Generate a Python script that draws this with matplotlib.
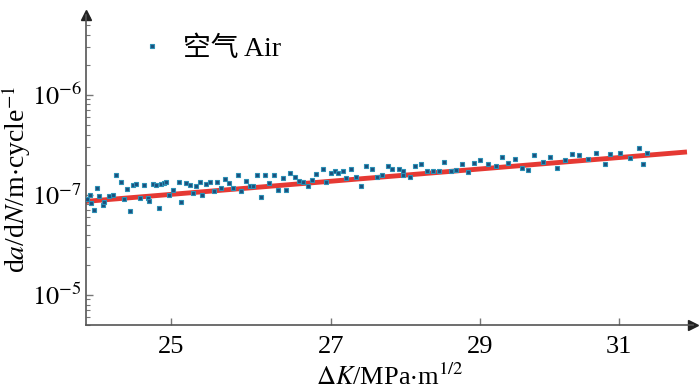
import numpy as np
import matplotlib
matplotlib.use("Agg")
from matplotlib import pyplot as plt
from matplotlib.ticker import NullLocator, FixedLocator, FixedFormatter

plt.rcParams['font.family'] = ['Liberation Serif', 'Noto Sans CJK SC']
plt.rcParams['mathtext.fontset'] = 'stix'

# Delta K (MPa m^1/2) and da/dN (m/cycle)
dk = [24.01, 24.05, 24.06, 24.09, 24.13, 24.15, 24.19, 24.21, 24.26, 24.31,
      24.35, 24.41, 24.44, 24.48, 24.51, 24.55, 24.58, 24.63, 24.68, 24.72,
      24.74, 24.78, 24.82, 24.86, 24.88, 24.92, 24.94, 24.98, 25.02, 25.10,
      25.12, 25.18, 25.23, 25.26,
      25.30, 25.35, 25.38, 25.42, 25.47, 25.52, 25.56, 25.61, 25.66, 25.71,
      25.76, 25.82, 25.86, 25.92, 25.97, 26.00, 26.05, 26.11, 26.16, 26.21,
      26.27, 26.32, 26.38, 26.42, 26.47, 26.53, 26.58,
      26.64, 26.70, 26.75, 26.80, 26.89, 26.94, 27.00, 27.05, 27.09, 27.15,
      27.19, 27.26, 27.33, 27.39, 27.46, 27.53, 27.60, 27.67, 27.75, 27.80,
      27.90, 27.95, 27.95,
      28.04, 28.11, 28.19, 28.27, 28.36, 28.44, 28.51, 28.60, 28.67, 28.75,
      28.84, 28.92, 29.00, 29.11, 29.22, 29.31, 29.39,
      29.50, 29.59, 29.68, 29.77, 29.90, 30.00, 30.10, 30.21, 30.31, 30.42,
      30.55, 30.67, 30.80, 30.88, 31.02, 31.17, 31.30, 31.36, 31.43]
dadn = [0.906, 1.000, 0.826, 0.708, 1.167, 0.962, 0.794, 0.857, 0.962, 1.000,
        1.585, 1.340, 0.912, 1.140, 0.681, 1.259, 1.279, 0.927, 1.259, 0.927,
        0.871, 1.279, 1.259, 0.736, 1.279, 1.309, 1.358, 1.000, 1.122, 1.358,
        0.857, 1.309, 1.259, 1.054,
        1.230, 1.358, 1.000, 1.288, 1.358, 1.104, 1.358, 1.167, 1.435, 1.327,
        1.167, 1.585, 1.104, 1.390, 1.211, 1.230, 1.585, 0.948, 1.560, 1.309,
        1.585, 1.122, 1.469, 1.122, 1.671, 1.524, 1.390,
        1.358, 1.230, 1.413, 1.622, 1.807, 1.358, 1.648, 1.711, 1.671, 1.711,
        1.489, 1.807, 1.524, 1.230, 1.950, 1.807, 1.524, 1.585, 1.950, 1.807,
        1.820, 1.750, 1.585,
        1.524, 1.950, 2.028, 1.711, 1.750, 1.750, 2.104, 1.711, 1.778, 2.028,
        1.687, 2.075, 2.239, 2.028, 1.919, 2.415, 2.075,
        2.275, 1.849, 1.778, 2.472, 2.104, 2.415, 1.875, 2.239, 2.553, 2.512,
        2.275, 2.612, 2.028, 2.553, 2.612, 2.360, 2.931, 2.042, 2.612]
dadn = np.array(dadn) * 1e-7

# fitted Paris line end points
fit_dk = [24.0, 32.0]
fit_dadn = [8.6e-8, 2.67e-7]

ytick_vals = [1e-8, 1e-7, 1e-6]
ytick_labels = [r'$10^{-5}$', r'$10^{-7}$', r'$10^{-6}$']
xtick_vals = [25, 27, 29, 31]

fig = plt.figure(figsize=(7, 3.91), dpi=100)
ax = fig.add_axes([0.123, 0.169, 0.867, 0.793])

ax.plot(fit_dk, fit_dadn, color='#e3231d', lw=3.5, alpha=0.9, zorder=2)
ax.plot(dk, dadn, 's', ms=3.5, mfc='#1c4f7c', mec='#2b90b5', mew=0.8,
        ls='none', zorder=3, label='空气 Air')

ax.set_xscale('log')
ax.set_yscale('log')
ax.set_xlim(24.0, 32.13)
ax.set_ylim(5.0e-9, 6.3e-6)

ax.xaxis.set_major_locator(FixedLocator(xtick_vals))
ax.xaxis.set_major_formatter(FixedFormatter([str(v) for v in xtick_vals]))
ax.xaxis.set_minor_locator(NullLocator())
ax.yaxis.set_major_locator(FixedLocator(ytick_vals))
ax.yaxis.set_major_formatter(FixedFormatter(ytick_labels))

for s in ['top', 'right']:
    ax.spines[s].set_visible(False)
for s in ['left', 'bottom']:
    ax.spines[s].set_color('#555555')
    ax.spines[s].set_linewidth(1.2)

ax.tick_params(which='both', direction='in', color='#777777', labelsize=19)
ax.tick_params(which='major', length=5, width=1)
ax.tick_params(which='minor', length=3, width=0.8)
ax.tick_params(axis='x', pad=8)
ax.tick_params(axis='y', pad=3)

ax.plot(1, 0, '>', color='#222222', ms=7, transform=ax.transAxes, clip_on=False)
ax.plot(0, 1, '^', color='#222222', ms=7, transform=ax.transAxes, clip_on=False)

ax.set_xlabel(r'$\Delta K$/MPa$\cdot$m$^{1/2}$', fontsize=19, labelpad=4)
ax.set_ylabel(r'd$a$/d$N$/m$\cdot$cycle$^{-1}$', fontsize=20)
ax.yaxis.set_label_coords(-0.088, 0.47)

ax.legend(loc='center left', bbox_to_anchor=(0.045, 0.89), frameon=False,
          fontsize=20, handlelength=1.0, handletextpad=0.6, markerscale=1.0)

fig.savefig('out.png', dpi=100)
